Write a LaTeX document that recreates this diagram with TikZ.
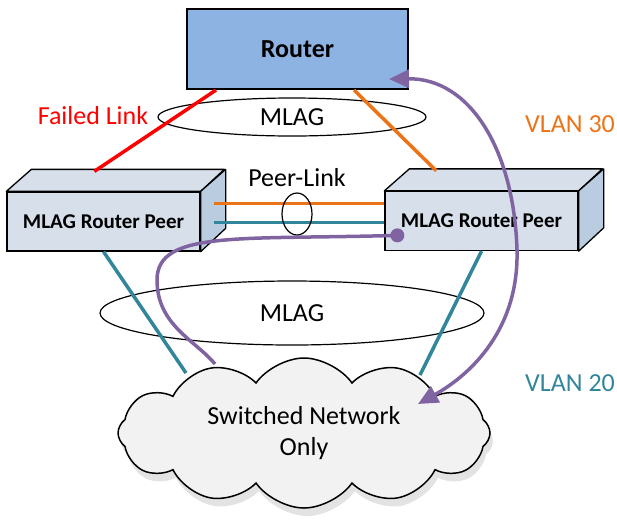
\documentclass[tikz,border=0pt]{standalone}
\usepackage{fontspec}
\setmainfont{Carlito}
\usepackage{tikz}
\usetikzlibrary{positioning,arrows.meta,calc,shapes.geometric,shapes.symbols,shadows}
\definecolor{cRtr}{HTML}{8DB3E2}
\definecolor{cFace}{HTML}{D6DFEA}
\definecolor{cSide}{HTML}{B9CCE0}
\definecolor{cOra}{HTML}{EC7418}
\definecolor{cTeal}{HTML}{31869B}
\definecolor{cPur}{HTML}{8064A2}
\begin{document}
\begin{tikzpicture}[
  x=1pt, y=-1pt, font=\fontsize{26}{31}\selectfont,
  rtrbox/.style={draw, line width=2pt, fill=cRtr, minimum width=221pt, minimum height=80pt, font=\fontsize{26}{31}\selectfont\bfseries},
  peer/.style={draw, line width=1.3pt, fill=cFace, minimum width=193pt, minimum height=59pt, inner sep=0pt, font=\fontsize{21}{25}\selectfont\bfseries},
  face/.style={draw, line width=1.3pt, fill=#1, line join=round},
  bundle/.style={draw, ellipse, line width=1.2pt, inner sep=0pt},
  lnk/.style={line width=3.5pt},
  trace/.style={line width=3.5pt, draw=cPur},
  >={Triangle[length=20pt, width=18pt]},
  lbl/.style={inner sep=0pt, anchor=base}
]
\useasboundingbox (0,0) rectangle (617,523);
\node[cloud, cloud puffs=12, cloud puff arc=110, aspect=2.5, draw, line width=1.5pt, fill=black!5,
  minimum width=372pt, minimum height=150pt, align=center,
  drop shadow={shadow xshift=3pt, shadow yshift=-8pt, fill=black!22}] (net) at (304,433) {Switched Network\\Only};
\node[bundle, minimum width=268pt, minimum height=38pt] (mt) at (292,117) {MLAG};
\node[bundle, minimum width=384pt, minimum height=64pt] (mb) at (292,313) {MLAG};
\node[rtrbox] (rtr) at (297.5,49) {Router};
\node[peer] (lp) at (103.5,221.5) {MLAG Router Peer};
\draw[face=cFace] (lp.north west) -- ++(25,-22) -- ++(193,0) -- (lp.north east) -- cycle;
\draw[face=cSide] (lp.north east) -- ++(25,-22) -- ++(0,59) -- (lp.south east) -- cycle;
\node[peer] (rp) at (481.5,221) {MLAG Router Peer};
\draw[face=cFace] (rp.north west) -- ++(25,-22) -- ++(193,0) -- (rp.north east) -- cycle;
\draw[face=cSide] (rp.north east) -- ++(25,-22) -- ++(0,59) -- (rp.south east) -- cycle;
\node[lbl, text=red] (fl) at (93,124) {Failed Link};
\node[lbl] (pll) at (297,186) {Peer-Link};
\node[lbl, text=cOra] (v30) at (570,132) {VLAN 30};
\node[lbl, text=cTeal] (v20) at (570,391) {VLAN 20};
\draw[lnk, red] ([shift={(30,0)}]rtr.south west) -- ([shift={(88,-20)}]lp.north west);
\draw[lnk, cOra] ([shift={(168,0)}]rtr.south west) -- ([shift={(52,-20)}]rp.north west);
\draw[lnk, cOra] ([shift={(13,12)}]lp.north east) -- ([shift={(0,12.5)}]rp.north west);
\draw[lnk, cTeal] ([shift={(13,31)}]lp.north east) -- ([shift={(0,31.5)}]rp.north west);
\draw[lnk, cTeal] (lp.south) -- ([shift={(-118,-60)}]net.center);
\draw[lnk, cTeal] (rp.south) -- ([shift={(116,-58)}]net.center);
\node[bundle, minimum width=30pt, minimum height=42pt] (pl) at (297,214) {};
\coordinate (dot) at ([shift={(13,44.5)}]rp.north west);
\draw[trace] (dot) .. controls (240,240) and (157,230) .. (157,280) .. controls (157,325) and (195,340) .. ([shift={(-89,-69)}]net.center);
\fill[cPur] (dot) circle (7);
\draw[trace, <->] ([shift={(203,-11)}]rtr.south west) .. controls (470,78) and (514,150) .. (517,250) .. controls (519,330) and (470,375) .. ([shift={(114,-29)}]net.center);
\end{tikzpicture}
\end{document}
